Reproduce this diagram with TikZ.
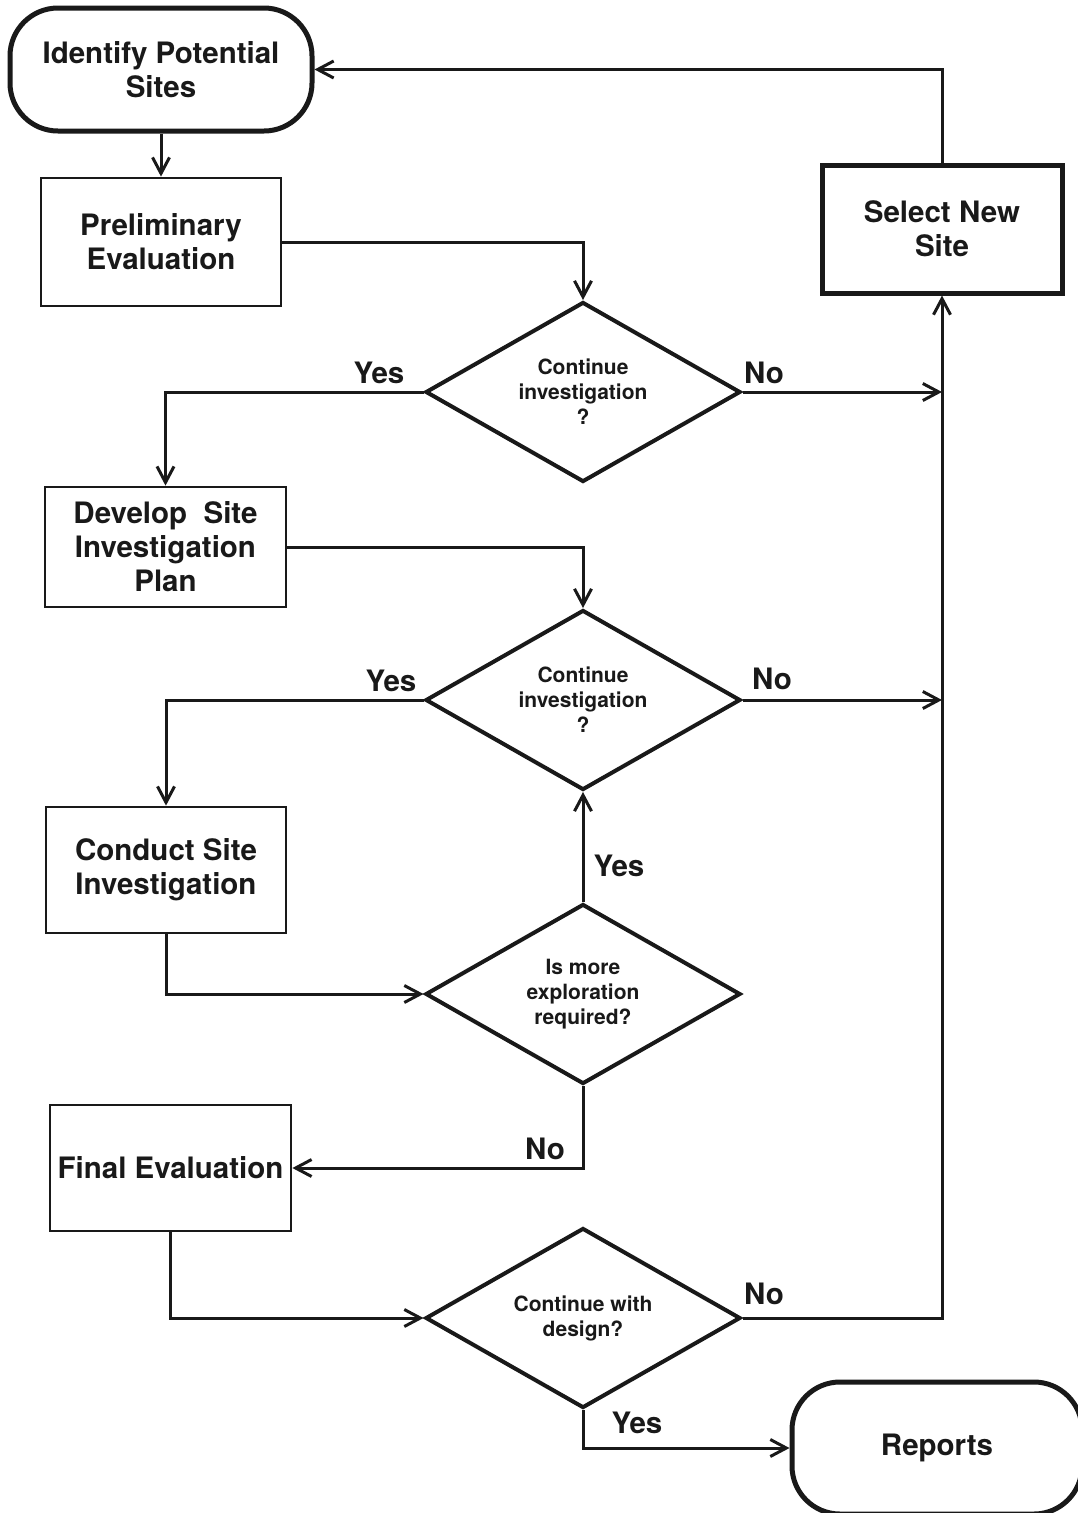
\documentclass[tikz,border=0pt]{standalone}
\usepackage{fontspec}
\setmainfont{TeX Gyre Heros}
\usetikzlibrary{shapes.geometric,arrows.meta}
\begin{document}
\begin{tikzpicture}[x=1pt,y=-1pt,
  boxtext/.style={font=\bfseries\fontsize{29.5}{34}\selectfont, align=center, text=black!90},
  stepbox/.style={draw=black!90, line width=2.8pt, boxtext, inner sep=0pt},
  termbox/.style={draw=black!90, line width=5pt, rounded corners=48pt, boxtext, inner sep=0pt},
  decision/.style={draw=black!90, diamond, line width=4pt, aspect=1.75, minimum width=315pt, minimum height=180pt, inner sep=0pt, align=center, font=\bfseries\fontsize{21}{25}\selectfont, text=black!90},
  arr/.style={draw=black!90, line width=3pt, -{Straight Barb[length=16pt,width=17pt,line width=3pt]}},
  lbl/.style={font=\bfseries\fontsize{29.5}{34}\selectfont, text=black!90, inner sep=0pt}]
\useasboundingbox (0,0) rectangle (1078,1513);
\fill[white] (0,0) rectangle (1078,1513);

\node[termbox, minimum width=302pt, minimum height=123pt] (identify) at (161,69.5) {Identify Potential\\Sites};
\node[stepbox, minimum width=240pt, minimum height=128pt] (prelim) at (161,242) {Preliminary\\Evaluation};
\node[stepbox, line width=5pt, minimum width=240pt, minimum height=128pt] (select) at (942,229) {Select New\\Site};
\node[decision] (d1) at (583,392) {Continue\\investigation\\?};
\node[stepbox, minimum width=241pt, minimum height=120pt] (develop) at (165.5,547) {Develop~ Site\\Investigation\\Plan};
\node[decision] (d2) at (583,700) {Continue\\investigation\\?};
\node[stepbox, minimum width=240pt, minimum height=126pt] (conduct) at (166,870) {Conduct Site\\Investigation};
\node[decision] (d3) at (583,994) {Is more\\exploration\\required?};
\node[stepbox, minimum width=241pt, minimum height=126pt] (final) at (170.5,1168) {Final Evaluation};
\node[decision] (d4) at (583,1318) {Continue with\\design?};
\node[termbox, minimum width=290pt, minimum height=132pt] (reports) at (937,1448) {Reports};

\draw[arr] (identify.south) -- (prelim.north);
\draw[arr] (prelim.east) -| (d1.north);
\draw[arr] (d1.west) -| (develop.north);
\draw[arr] (d1.east) -- (d1.east -| select.south);
\draw[arr] (develop.east) -| (d2.north);
\draw[arr] (d2.west) -| (conduct.north);
\draw[arr] (d2.east) -- (d2.east -| select.south);
\draw[arr] (conduct.south) |- (d3.west);
\draw[arr] (d3.north) -- (d2.south);
\draw[arr] (d3.south) |- (final.east);
\draw[arr] (final.south) |- (d4.west);
\draw[arr] (d4.east) -| (select.south);
\draw[arr] (d4.south) |- (reports.west);
\draw[arr] (select.north) |- (identify.east);

\node[lbl] (y1) at (379,373) {Yes};
\node[lbl] (n1) at (764,373) {No};
\node[lbl] (y2) at (391,681) {Yes};
\node[lbl] (n2) at (772,679) {No};
\node[lbl] (y3) at (619,866) {Yes};
\node[lbl] (n3) at (545,1149) {No};
\node[lbl] (n4) at (764,1294) {No};
\node[lbl] (y4) at (637,1423) {Yes};
\end{tikzpicture}
\end{document}
